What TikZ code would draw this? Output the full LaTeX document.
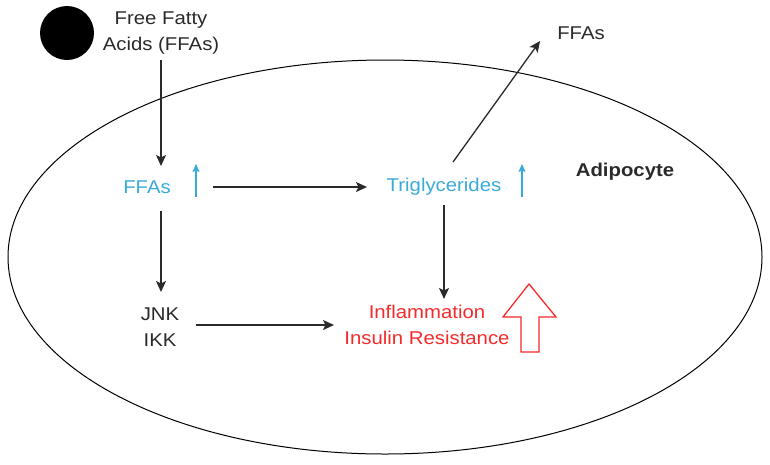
\documentclass[tikz,border=0pt]{standalone}
\usepackage{fontspec}
\setmainfont[FakeStretch=1.1]{Liberation Sans}
\usetikzlibrary{arrows.meta}
\definecolor{tblue}{HTML}{3AAAD8}
\definecolor{tred}{HTML}{F52A2A}
\definecolor{tgray}{HTML}{2A2A2A}
\begin{document}
\begin{tikzpicture}[x=1pt,y=-1pt,
  lbl/.style={font=\fontsize{18.5}{26}\selectfont, text=tgray, align=center, inner sep=0pt},
  bl/.style={lbl, text=tblue},
  rd/.style={lbl, text=tred},
  conn/.style={draw=tgray, line width=1.3pt, -{Stealth[length=11pt,width=10pt,inset=2.5pt]}},
  uparr/.style={draw=tblue, line width=1.1pt, -{Stealth[length=8pt,width=7pt,inset=1.5pt]}}]
\useasboundingbox (0,0) rectangle (770,464);
% cell
\draw[line width=1pt, black] (385,257) ellipse [x radius=377, y radius=197];
% black circle
\fill[black] (67,33) circle (27);
% nodes
\node[lbl] (ffa0) at (161,33) {Free Fatty\\Acids (FFAs)};
\node[bl] (ffa) at (147,187) {FFAs};
\node[bl] (tg) at (444,187) {Triglycerides};
\node[lbl, font=\fontsize{18.5}{22}\selectfont\bfseries] (adi) at (625,172) {Adipocyte};
\node[lbl] (ffa2) at (581,33) {FFAs};
\node[lbl] (jnk) at (160,327) {JNK\\IKK};
\node[rd] (infl) at (427,325) {Inflammation\\Insulin Resistance};
% coordinates for arrows
\coordinate (a1s) at (161,60);
\coordinate (a1e) at (161,166);
\coordinate (a2s) at (213,187);
\coordinate (a2e) at (367,187);
\coordinate (a3s) at (453,162);
\coordinate (a3e) at (540,41);
\coordinate (a4s) at (161,211);
\coordinate (a4e) at (161,292);
\coordinate (a5s) at (196,325);
\coordinate (a5e) at (334,325);
\coordinate (a6s) at (444,205);
\coordinate (a6e) at (444,299);
\draw[conn] (a1s) -- (a1e);
\draw[conn] (a2s) -- (a2e);
\draw[conn] (a3s) -- (a3e);
\draw[conn] (a4s) -- (a4e);
\draw[conn] (a5s) -- (a5e);
\draw[conn] (a6s) -- (a6e);
% blue up arrows
\coordinate (b1s) at (196,197);
\coordinate (b1e) at (196,164);
\coordinate (b2s) at (522,197);
\coordinate (b2e) at (522,164);
\draw[uparr] (b1s) -- (b1e);
\draw[uparr] (b2s) -- (b2e);
% red hollow arrow
\draw[tred, line width=1.3pt, line join=miter]
  (521,352) -- (521,317) -- (503,317) -- (529,284) -- (556,317) -- (539,317) -- (539,352) -- cycle;
\end{tikzpicture}
\end{document}
